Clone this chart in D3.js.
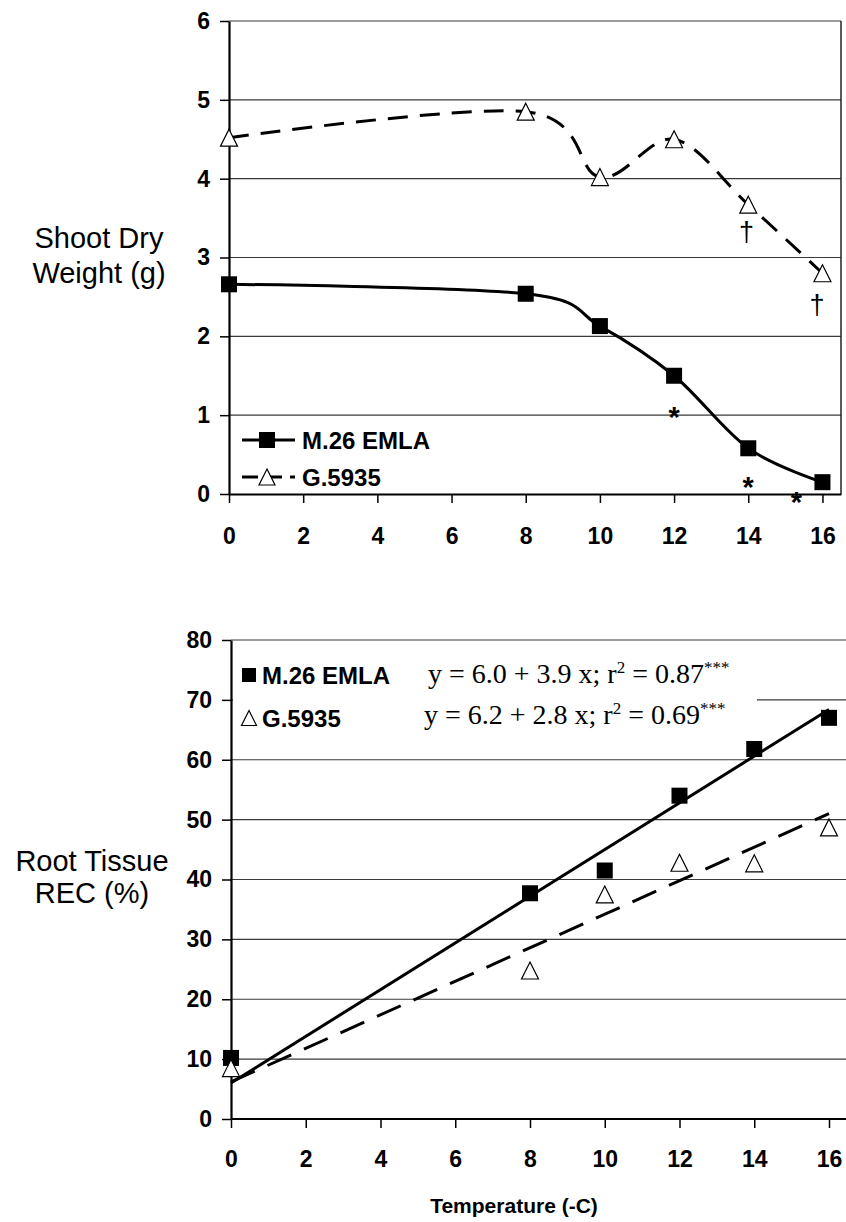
<!DOCTYPE html>
<html><head><meta charset="utf-8">
<script src="https://cdn.jsdelivr.net/npm/d3@7"></script>
<style>body{margin:0;background:#fff} svg{display:block}</style>
</head><body><svg id="c" width="846" height="1222"></svg>
<script>
// ---------- data ----------
const temps = [0, 8, 10, 12, 14, 16];
const shootM26 = [2.66, 2.54, 2.13, 1.50, 0.58, 0.15];
const shootG5935 = [4.52, 4.85, 4.02, 4.50, 3.67, 2.80];
const recM26 = [10.2, 37.7, 41.5, 54.0, 61.8, 67.0];
const recG5935 = [8.5, 24.8, 37.5, 42.8, 42.7, 48.7];
const seriesNames = ["M.26 EMLA", "G.5935"];
const regIntercepts = [6.0, 6.2];
const regSlopes = [3.9, 2.8];
const regR2 = ["0.87", "0.69"];
const xTicks = [0, 2, 4, 6, 8, 10, 12, 14, 16];
const shootTicks = [0, 1, 2, 3, 4, 5, 6];
const recTicks = [0, 10, 20, 30, 40, 50, 60, 70, 80];
const annotSymbols = ["*", "*", "*", "\u2020", "\u2020"];
const annotX = [12, 14, 15.3, 13.95, 15.85];
const annotY = [1.07, 0.18, -0.01, 3.32, 2.40];

// ---------- setup ----------
const svg = d3.select("#c");
const SANS = "'Liberation Sans', Arial, sans-serif";
const SERIF = "'Liberation Serif', 'Times New Roman', serif";

function drawTriangle(g, cx, cy, s) {
  const h = s;
  g.append("path")
    .attr("d", `M${cx},${cy - h/2} L${cx + s/2},${cy + h/2} L${cx - s/2},${cy + h/2} Z`)
    .attr("fill", "#fff").attr("stroke", "#000").attr("stroke-width", 1.2);
}
function drawSquare(g, cx, cy, s) {
  g.append("rect").attr("x", cx - s/2).attr("y", cy - s/2)
    .attr("width", s).attr("height", s).attr("fill", "#000");
}

function grid(g, x, y, yTicks, xRight) {
  g.selectAll("line.grid").data(yTicks.filter(d => d > 0)).enter().append("line")
    .attr("class", "grid")
    .attr("x1", x(0)).attr("x2", xRight)
    .attr("y1", d => y(d)).attr("y2", d => y(d))
    .attr("stroke", "#3a3a3a").attr("stroke-width", 1.2);
}

function styleAxis(ax) {
  ax.selectAll("text").attr("font-family", SANS).attr("font-weight", "bold")
    .attr("font-size", 23).attr("fill", "#000");
  ax.selectAll("line").attr("stroke", "#000").attr("stroke-width", 1.5);
  ax.select(".domain").attr("stroke", "#000").attr("stroke-width", 2.2);
}

// ---------- top chart ----------
const gTop = svg.append("g");
const xT = d3.scaleLinear().domain([0, 16.5]).range([229, 841]);
const yT = d3.scaleLinear().domain([0, 6]).range([494, 21]);
grid(gTop, xT, yT, shootTicks, 841);
gTop.append("line").attr("x1", 841).attr("x2", 841).attr("y1", yT(6)).attr("y2", yT(0))
  .attr("stroke", "#222").attr("stroke-width", 1.5);

const lineT = d3.line().x(d => xT(d[0])).y(d => yT(d[1])).curve(d3.curveCatmullRom.alpha(0));
gTop.append("path").datum(temps.map((t, i) => [t, shootG5935[i]]))
  .attr("d", lineT).attr("fill", "none").attr("stroke", "#000")
  .attr("stroke-width", 3).attr("stroke-dasharray", "20,12");
gTop.append("path").datum(temps.map((t, i) => [t, shootM26[i]]))
  .attr("d", lineT).attr("fill", "none").attr("stroke", "#000").attr("stroke-width", 3);

const axTx = gTop.append("g").attr("transform", `translate(0,${yT(0)})`)
  .call(d3.axisBottom(xT).tickValues(xTicks).tickFormat(d3.format("d")).tickSize(9).tickSizeOuter(0).tickPadding(25));
styleAxis(axTx);
const axTy = gTop.append("g").attr("transform", `translate(${xT(0)},0)`)
  .call(d3.axisLeft(yT).tickValues(shootTicks).tickFormat(d3.format("d")).tickSize(9).tickSizeOuter(0).tickPadding(10));
styleAxis(axTy);

temps.forEach((t, i) => drawSquare(gTop, xT(t), yT(shootM26[i]), 16));
temps.forEach((t, i) => drawTriangle(gTop, xT(t), yT(shootG5935[i]), 17));

annotSymbols.forEach((s, i) => {
  const isStar = s === "*";
  gTop.append("text").attr("x", xT(annotX[i])).attr("y", yT(annotY[i]) + (isStar ? 17 : 9))
    .attr("text-anchor", "middle").attr("font-family", SANS)
    .attr("font-weight", isStar ? "bold" : "normal")
    .attr("font-size", isStar ? 29 : 27).text(s);
});

const tt = gTop.append("text").attr("font-family", SANS).attr("font-size", 29)
  .attr("text-anchor", "middle");
tt.append("tspan").attr("x", 99).attr("y", 248).text("Shoot Dry");
tt.append("tspan").attr("x", 99).attr("y", 283).text("Weight (g)");

const legY = [440, 477];
[0, 1].forEach(i => {
  gTop.append("line").attr("x1", 242).attr("x2", 295).attr("y1", legY[i]).attr("y2", legY[i])
    .attr("stroke", "#000").attr("stroke-width", 3)
    .attr("stroke-dasharray", i === 1 ? "16,8" : null);
  if (i === 0) drawSquare(gTop, 267, legY[i], 16); else drawTriangle(gTop, 267, legY[i], 16);
  gTop.append("text").attr("x", 302).attr("y", legY[i] + 8.5)
    .attr("font-family", SANS).attr("font-weight", "bold").attr("font-size", 24)
    .text(seriesNames[i]);
});

// ---------- bottom chart ----------
const gBot = svg.append("g");
const xB = d3.scaleLinear().domain([0, 16]).range([231, 829]);
const yB = d3.scaleLinear().domain([0, 80]).range([1119, 640]);
grid(gBot, xB, yB, recTicks, 846);

const lineB = d3.line().x(d => xB(d[0])).y(d => yB(d[1]));
[1, 0].forEach(i => {
  gBot.append("path").datum([0, 16].map(t => [t, regIntercepts[i] + regSlopes[i] * t]))
    .attr("d", lineB).attr("fill", "none").attr("stroke", "#000").attr("stroke-width", 3)
    .attr("stroke-dasharray", i === 1 ? "26,14" : null);
});

gBot.append("rect").attr("x", 233).attr("y", 648).attr("width", 524).attr("height", 88).attr("fill", "#fff");

const axBx = gBot.append("g").attr("transform", `translate(0,${yB(0)})`)
  .call(d3.axisBottom(xB).tickValues(xTicks).tickFormat(d3.format("d")).tickSize(9).tickSizeOuter(0).tickPadding(23));
styleAxis(axBx);
axBx.select(".domain").attr("d", `M${xB(0)},0H846`);
const axBy = gBot.append("g").attr("transform", `translate(${xB(0)},0)`)
  .call(d3.axisLeft(yB).tickValues(recTicks).tickFormat(d3.format("d")).tickSize(9).tickSizeOuter(0).tickPadding(10));
styleAxis(axBy);

temps.forEach((t, i) => drawSquare(gBot, xB(t), yB(recM26[i]), 16));
temps.forEach((t, i) => drawTriangle(gBot, xB(t), yB(recG5935[i]), 17));

const bLegY = [675, 718];
drawSquare(gBot, 249, bLegY[0], 14);
drawTriangle(gBot, 249, bLegY[1], 15);
[0, 1].forEach(i => {
  gBot.append("text").attr("x", 262).attr("y", bLegY[i] + 8.5)
    .attr("font-family", SANS).attr("font-weight", "bold").attr("font-size", 24)
    .text(seriesNames[i]);
  const eq = gBot.append("text").attr("x", i === 0 ? 428 : 424).attr("y", bLegY[i] + (i === 0 ? 8 : 6))
    .attr("font-family", SERIF).attr("font-size", 28);
  eq.append("tspan").text(`y = ${regIntercepts[i].toFixed(1)} + ${regSlopes[i].toFixed(1)} x; r`);
  eq.append("tspan").attr("font-size", 17).attr("dy", -10).text("2");
  eq.append("tspan").attr("dy", 10).text(` = ${regR2[i]}`);
  eq.append("tspan").attr("font-size", 17).attr("dy", -10).text("***");
});

const bt = gBot.append("text").attr("font-family", SANS).attr("font-size", 29)
  .attr("text-anchor", "middle");
bt.append("tspan").attr("x", 92).attr("y", 871).text("Root Tissue");
bt.append("tspan").attr("x", 92).attr("y", 903).text("REC (%)");
gBot.append("text").attr("x", 514).attr("y", 1213).attr("text-anchor", "middle")
  .attr("font-family", SANS).attr("font-weight", "bold").attr("font-size", 21)
  .text("Temperature (-C)");
</script></body></html>
